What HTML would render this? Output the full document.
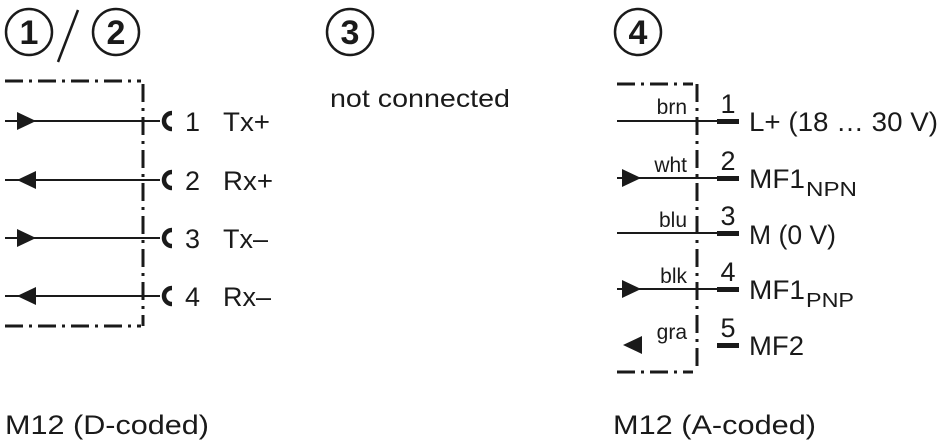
<!DOCTYPE html>
<html><head><style>html,body{margin:0;padding:0;background:#fff}svg{display:block}</style></head>
<body>
<svg width="940" height="440" viewBox="0 0 940 440" xmlns="http://www.w3.org/2000/svg" font-family="Liberation Sans, sans-serif" fill="#1a1a1a">
<g stroke="#1a1a1a" fill="none">
<circle cx="29" cy="32" r="23" stroke-width="2.5"/>
<circle cx="116" cy="32" r="23" stroke-width="2.5"/>
<line x1="58" y1="62" x2="78" y2="10" stroke-width="2.5"/>
<circle cx="350" cy="32" r="23" stroke-width="2.5"/>
<circle cx="638" cy="32" r="23" stroke-width="2.5"/>
<g stroke-width="3" stroke-dasharray="18,6,3,6">
<line x1="5" y1="81" x2="141" y2="81"/>
<line x1="143" y1="84" x2="143" y2="326"/>
<line x1="5" y1="326" x2="141" y2="326"/>
</g>
<g stroke-width="2">
<line x1="5" y1="121" x2="160" y2="121"/>
<line x1="5" y1="180" x2="160" y2="180"/>
<line x1="5" y1="238" x2="160" y2="238"/>
<line x1="5" y1="296" x2="160" y2="296"/>
</g>
<g stroke-width="4.5">
<path d="M172 113 A8 8 0 0 0 172 129"/>
<path d="M172 172 A8 8 0 0 0 172 188"/>
<path d="M172 230 A8 8 0 0 0 172 246"/>
<path d="M172 288 A8 8 0 0 0 172 304"/>
</g>
<g stroke-width="3" stroke-dasharray="18,6,3,6">
<line x1="617" y1="84" x2="693" y2="84"/>
<line x1="697" y1="84" x2="697" y2="370"/>
<line x1="617" y1="372" x2="693" y2="372"/>
</g>
<g stroke-width="2">
<line x1="617" y1="121" x2="718" y2="121"/>
<line x1="617" y1="178" x2="718" y2="178"/>
<line x1="617" y1="233" x2="718" y2="233"/>
<line x1="617" y1="289" x2="718" y2="289"/>
</g>
</g>
<polygon points="17,112 36,121 17,130"/>
<polygon points="36,171 17,180 36,189"/>
<polygon points="17,229 36,238 17,247"/>
<polygon points="36,287 17,296 36,305"/>
<polygon points="622,169 641,178 622,187"/>
<polygon points="622,280 641,289 622,298"/>
<polygon points="642,336 623,345 642,354"/>
<rect x="717" y="119" width="22" height="5"/>
<rect x="717" y="176" width="22" height="5"/>
<rect x="717" y="231" width="22" height="5"/>
<rect x="717" y="287" width="22" height="5"/>
<rect x="717" y="343" width="22" height="5"/>
<g font-size="34" font-weight="bold" text-anchor="middle">
<text x="29" y="44">1</text><text x="116" y="44">2</text>
<text x="350" y="44">3</text><text x="638" y="44">4</text>
</g>
<g font-size="27">
<text x="185" y="131">1</text><text x="223" y="131" textLength="47" lengthAdjust="spacingAndGlyphs">Tx+</text>
<text x="185" y="190">2</text><text x="223" y="190" textLength="50" lengthAdjust="spacingAndGlyphs">Rx+</text>
<text x="185" y="248">3</text><text x="223" y="248" textLength="45" lengthAdjust="spacingAndGlyphs">Tx–</text>
<text x="185" y="306">4</text><text x="223" y="306" textLength="48" lengthAdjust="spacingAndGlyphs">Rx–</text>
<text x="330" y="107" font-size="25" textLength="180" lengthAdjust="spacingAndGlyphs">not connected</text>
<text x="5" y="434" textLength="204" lengthAdjust="spacingAndGlyphs">M12 (D-coded)</text>
<text x="613" y="434" textLength="203" lengthAdjust="spacingAndGlyphs">M12 (A-coded)</text>
<g text-anchor="middle"><text x="728" y="113">1</text><text x="728" y="170">2</text><text x="728" y="225">3</text><text x="728" y="281">4</text><text x="728" y="337">5</text></g>
<text x="749" y="131" textLength="189" lengthAdjust="spacingAndGlyphs">L+ (18 … 30 V)</text>
<text x="749" y="188" textLength="56" lengthAdjust="spacingAndGlyphs">MF1</text><text x="806" y="196" font-size="20" textLength="51" lengthAdjust="spacingAndGlyphs">NPN</text>
<text x="749" y="244" textLength="87" lengthAdjust="spacingAndGlyphs">M (0 V)</text>
<text x="749" y="299" textLength="56" lengthAdjust="spacingAndGlyphs">MF1</text><text x="806" y="307" font-size="20" textLength="48" lengthAdjust="spacingAndGlyphs">PNP</text>
<text x="749" y="355" textLength="55" lengthAdjust="spacingAndGlyphs">MF2</text>
</g>
<g font-size="21" text-anchor="end">
<text x="687" y="114">brn</text>
<text x="687" y="172">wht</text>
<text x="687" y="227">blu</text>
<text x="687" y="283">blk</text>
<text x="687" y="339">gra</text>
</g>
</svg>
</body></html>
